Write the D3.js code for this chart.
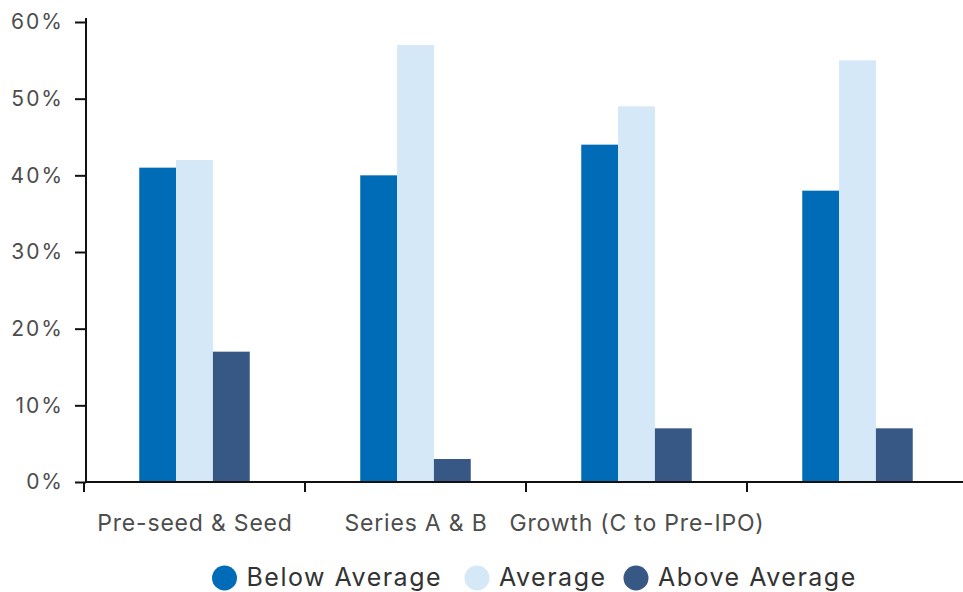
<!DOCTYPE html>
<html>
<head>
<meta charset="utf-8">
<script src="https://cdn.jsdelivr.net/npm/d3@7"></script>
<style>
  body { margin: 0; background: #fff; }
  svg text { font-family: "Inter", "Noto Sans", sans-serif; }
</style>
</head>
<body>
<svg id="chart" width="963" height="592"></svg>
<script>
// chart data
const stages = ["Pre-seed & Seed", "Series A & B", "Growth (C to Pre-IPO)", ""];
const seriesNames = ["Below Average", "Average", "Above Average"];
const belowAvg = [41, 40, 44, 38];
const average = [42, 57, 49, 55];
const aboveAvg = [17, 3, 7, 7];
const yTicks = [0, 10, 20, 30, 40, 50, 60];
const colors = ["#006bb6", "#d4e8f8", "#375785"];

const svg = d3.select("#chart");
const allSeries = [belowAvg, average, aboveAvg];

const x0 = d3.scaleBand().domain(d3.range(stages.length)).range([84, 968]);
const x1 = d3.scaleBand().domain(d3.range(seriesNames.length))
  .range([0, x0.bandwidth()]).paddingOuter(1.5).paddingInner(0);
const y = d3.scaleLinear().domain([0, 60]).range([482, 22]);

// bars
const groups = svg.append("g").selectAll("g")
  .data(stages)
  .join("g")
  .attr("transform", (d, i) => `translate(${x0(i)},0)`);

groups.selectAll("rect")
  .data((d, i) => allSeries.map((s, k) => ({ k, v: s[i] })))
  .join("rect")
  .attr("x", d => x1(d.k))
  .attr("width", x1.bandwidth())
  .attr("y", d => y(d.v))
  .attr("height", d => y(0) - y(d.v))
  .attr("fill", d => colors[d.k]);

// y axis
const yAxis = svg.append("g")
  .attr("transform", "translate(86,0)")
  .call(d3.axisLeft(y).tickValues(yTicks).tickFormat(d => d + "%").tickSize(11).tickSizeOuter(0));
yAxis.select(".domain").attr("stroke", "#111").attr("stroke-width", 2).attr("d", "M0,18V483");
yAxis.selectAll(".tick line").attr("stroke", "#111").attr("stroke-width", 2);
yAxis.selectAll(".tick text")
  .attr("x", -22)
  .attr("fill", "#4d4d4d")
  .style("font-size", "21px")
  .style("letter-spacing", "2px");

// x axis
svg.append("line")
  .attr("x1", 86).attr("x2", 963)
  .attr("y1", y(0)).attr("y2", y(0))
  .attr("stroke", "#111").attr("stroke-width", 2);

svg.append("g").selectAll("line")
  .data(d3.range(stages.length))
  .join("line")
  .attr("x1", i => x0(i)).attr("x2", i => x0(i))
  .attr("y1", y(0)).attr("y2", y(0) + 10)
  .attr("stroke", "#111").attr("stroke-width", 2);

svg.append("g").selectAll("text")
  .data(stages)
  .join("text")
  .attr("x", (d, i) => x0(i) + x0.bandwidth() / 2 + 0.5)
  .attr("y", 531)
  .attr("text-anchor", "middle")
  .attr("fill", "#4d4d4d")
  .style("font-size", "23px")
  .style("letter-spacing", "0.8px")
  .text(d => d);

// legend
const legendX = [224.5, 477, 636];
const legend = svg.append("g").selectAll("g")
  .data(seriesNames)
  .join("g")
  .attr("transform", (d, i) => `translate(${legendX[i]},578)`);
legend.append("circle").attr("r", 12.5).attr("fill", (d, i) => colors[i]);
legend.append("text")
  .attr("x", 22)
  .attr("y", 8)
  .attr("fill", "#333")
  .style("font-size", "25px")
  .style("letter-spacing", "1.5px")
  .text(d => d);
</script>
</body>
</html>
